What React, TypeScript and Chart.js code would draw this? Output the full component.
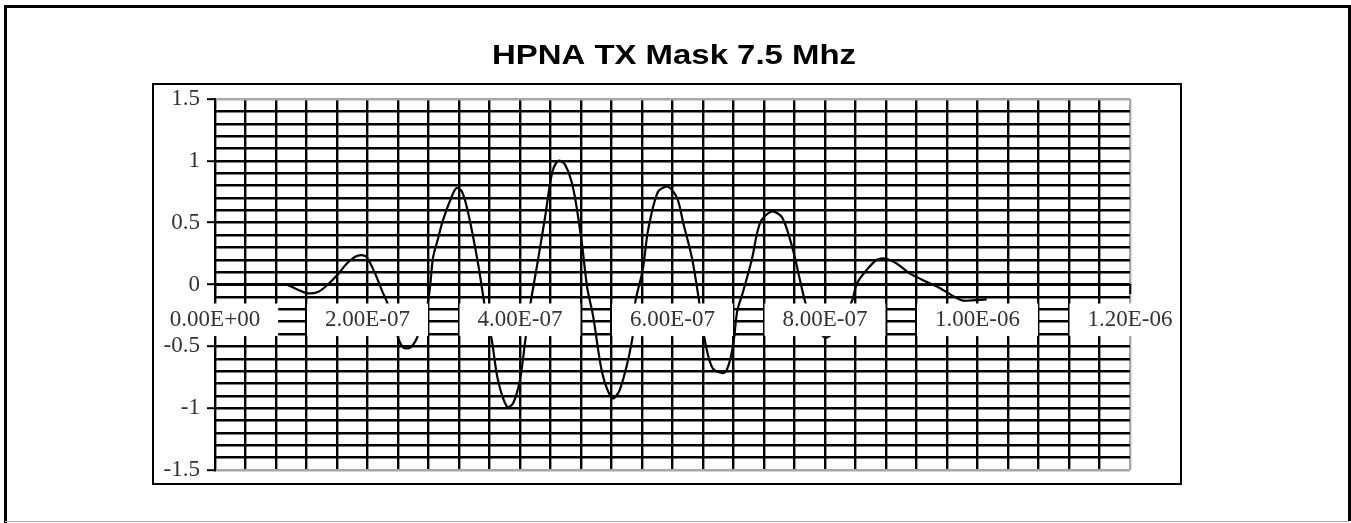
import React, { useEffect, useRef } from "react";
import { Chart, registerables } from "chart.js";

Chart.register(...registerables);

// ---- data (time in nanoseconds, amplitude in volts) ----
const timeNs = [
  94, 108, 121, 135, 148, 161, 173, 186, 197, 203,
  212, 219, 226, 240, 247, 256, 265, 272, 278, 282,
  286, 292, 299, 311, 317, 324, 332, 345, 354, 363,
  371, 383, 391, 400, 407, 413, 422, 433, 442, 450,
  459, 470, 481, 488, 496, 508, 521, 531, 547, 551,
  561, 568, 581, 594, 606, 614, 626, 636, 643, 653,
  669, 679, 685, 692, 704, 715, 730, 744, 758, 767,
  776, 788, 800, 815, 835, 842, 855, 868, 879, 894,
  911, 934, 951, 967, 981, 1012,
];
const amplitude = [
  0.0, -0.04, -0.07, -0.06, 0.0, 0.08, 0.17, 0.23, 0.23, 0.18,
  0.06, -0.05, -0.15, -0.43, -0.51, -0.51, -0.43, -0.29, -0.18, -0.02,
  0.22, 0.36, 0.52, 0.72, 0.78, 0.75, 0.58, 0.17, -0.18, -0.45,
  -0.77, -0.99, -0.96, -0.77, -0.45, -0.18, 0.14, 0.55, 0.9, 1.0,
  0.97, 0.77, 0.34, -0.02, -0.26, -0.72, -0.92, -0.85, -0.45, -0.15,
  0.12, 0.44, 0.75, 0.79, 0.7, 0.5, 0.2, -0.18, -0.47, -0.68,
  -0.71, -0.51, -0.21, -0.07, 0.2, 0.5, 0.59, 0.54, 0.28, 0.04,
  -0.18, -0.33, -0.43, -0.36, -0.14, 0.01, 0.12, 0.2, 0.21, 0.17,
  0.09, 0.02, -0.03, -0.09, -0.13, -0.12,
];
const xTickLabels = ["0.00E+00", "2.00E-07", "4.00E-07", "6.00E-07", "8.00E-07", "1.00E-06", "1.20E-06"];
const yTickLabels = ["-1.5", "-1", "-0.5", "0", "0.5", "1", "1.5"];
const titleText = "HPNA TX Mask 7.5 Mhz";

const W = 1351;
const H = 523;
const tickFont = { family: '"Liberation Serif", "Times New Roman", serif', size: 23 };
const tickColor = "#333";
const edgeGray = "#a8a8a8";
const gridWidth = 2.4;

const isMajorY = (v: number) => Math.abs(v * 2 - Math.round(v * 2)) < 1e-6;

const framePlugin = {
  id: "frames",
  beforeDraw(chart: any) {
    const ctx = chart.ctx as CanvasRenderingContext2D;
    ctx.save();
    ctx.fillStyle = "#fff";
    ctx.fillRect(0, 0, chart.width, chart.height);
    ctx.restore();
  },
  afterDraw(chart: any) {
    const ctx = chart.ctx as CanvasRenderingContext2D;
    ctx.save();
    // outer frame
    ctx.strokeStyle = "#000";
    ctx.lineWidth = 3;
    ctx.beginPath();
    ctx.moveTo(5.5, H);
    ctx.lineTo(5.5, 6.5);
    ctx.lineTo(1349.5, 6.5);
    ctx.lineTo(1349.5, 521);
    ctx.stroke();
    ctx.strokeStyle = "#aaa";
    ctx.lineWidth = 1;
    ctx.beginPath();
    ctx.moveTo(5, 521.5);
    ctx.lineTo(1349, 521.5);
    ctx.stroke();
    // inner box
    ctx.strokeStyle = "#000";
    ctx.lineWidth = 2;
    ctx.strokeRect(153, 84, 1028, 400);
    // title (horizontally stretched like the scanned original)
    ctx.font = 'bold 28px "Liberation Sans", Arial, sans-serif';
    ctx.fillStyle = "#000";
    ctx.textAlign = "center";
    ctx.textBaseline = "alphabetic";
    const tw = ctx.measureText(titleText).width;
    const sx = 364 / tw;
    ctx.translate(674, 64);
    ctx.scale(sx, 1);
    ctx.fillText(titleText, 0, 0);
    ctx.restore();
  },
};

export default function App() {
  const ref = useRef<HTMLCanvasElement | null>(null);

  useEffect(() => {
    if (!ref.current) return;
    const chart = new Chart(ref.current, {
      type: "line",
      data: {
        datasets: [
          {
            data: timeNs.map((t, i) => ({ x: t, y: amplitude[i] })),
            borderColor: "#000",
            borderWidth: 2.2,
            pointRadius: 0,
            fill: false,
            tension: 0.3,
          },
        ],
      },
      options: {
        animation: false,
        responsive: false,
        devicePixelRatio: 1,
        events: [],
        layout: { padding: { left: 150, right: 221, top: 99, bottom: 53 } },
        plugins: { legend: { display: false }, tooltip: { enabled: false }, title: { display: false } },
        scales: {
          x: {
            type: "linear",
            position: { y: 0 } as any,
            min: 0,
            max: 1200,
            ticks: {
              stepSize: 40,
              autoSkip: false,
              maxRotation: 0,
              minRotation: 0,
              z: 1,
              padding: 14,
              font: tickFont,
              color: tickColor,
              callback: (_v: any, i: number) => (i % 5 === 0 ? xTickLabels[i / 5] : ""),
              showLabelBackdrop: (c: any) => c.index % 5 === 0,
              backdropColor: "#fff",
              backdropPadding: { top: 3, bottom: 2, left: 18, right: 18 },
            } as any,
            grid: {
              color: (c: any) => (c.index === 30 ? edgeGray : "#000"),
              lineWidth: gridWidth,
              tickLength: 8,
              tickWidth: 2,
              tickColor: (c: any) => (c.index % 5 === 0 ? "#000" : "rgba(0,0,0,0)"),
            },
            border: { color: "#000", width: 2 },
          },
          y: {
            type: "linear",
            min: -1.5,
            max: 1.5,
            afterFit: (s: any) => {
              s.width = 65;
            },
            ticks: {
              stepSize: 0.1,
              autoSkip: false,
              padding: 7,
              font: tickFont,
              color: tickColor,
              callback: (v: any) => {
                const n = Number(v);
                return isMajorY(n) ? yTickLabels[Math.round((n + 1.5) * 2)] : "";
              },
            },
            grid: {
              color: (c: any) => (c.tick && Math.abs(Math.abs(c.tick.value) - 1.5) < 1e-6 ? edgeGray : "#000"),
              lineWidth: gridWidth,
              tickLength: 8,
              tickWidth: 2,
              tickColor: (c: any) => (c.tick && isMajorY(c.tick.value) ? "#000" : "rgba(0,0,0,0)"),
            },
            border: { color: "#000", width: 2 },
          },
        },
      },
      plugins: [framePlugin],
    } as any);
    return () => chart.destroy();
  }, []);

  return (
    <div style={{ position: "fixed", left: 0, top: 0, width: W, height: H, background: "#fff" }}>
      <canvas ref={ref} width={W} height={H} style={{ width: W, height: H, display: "block" }} />
    </div>
  );
}
